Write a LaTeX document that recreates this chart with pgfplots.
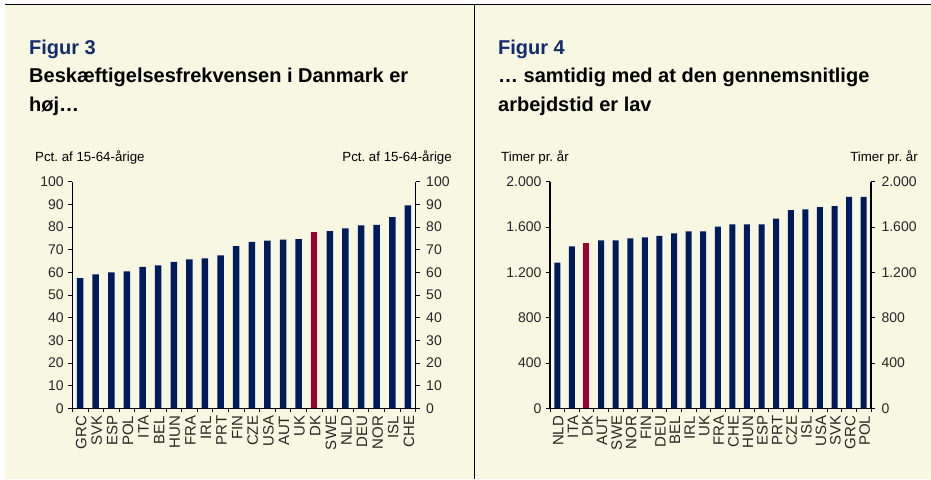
\documentclass[border=0pt]{standalone}
\usepackage{pgfplots}
\pgfplotsset{compat=1.18}
\usepackage{fontspec}
\setmainfont{Liberation Sans}
\frenchspacing
\definecolor{cream}{RGB}{248,247,225}
\definecolor{navy}{RGB}{0,26,94}
\definecolor{titleblue}{RGB}{18,44,110}
\definecolor{dkred}{RGB}{160,0,48}
\newcommand{\sml}{\fontsize{13.3}{15}\selectfont}
\newcommand{\tck}{\fontsize{14}{15}\selectfont}
\newcommand{\cat}{\fontsize{15}{16}\selectfont}
\newcommand{\ttl}{\fontsize{20}{28.5}\selectfont\bfseries}
\pgfplotsset{
  panel/.style={
    scale only axis, anchor=south west, height=226.6pt,
    xmin=-0.5, xmax=21.5,
    /pgf/number format/assume math mode=true,
    tick align=outside, major tick length=4pt,
    axis line style={black, line width=1.2pt},
    tick style={black, line width=0.8pt},
    ticklabel style={font=\tck, text=black!85},
  },
  leftpart/.style={panel,
    axis x line*=bottom, axis y line*=left,
    xtick={-0.5,0.5,...,21.5}, x tick label as interval,
    xticklabel style={rotate=90, anchor=east, font=\cat, yshift=-1pt},
    yticklabel style={xshift=-1pt},
  },
  rightpart/.style={panel,
    axis x line=none, axis y line*=right,
    yticklabel style={xshift=3pt},
  },
}
\begin{document}
\begin{tikzpicture}[x=1pt,y=1pt]
\useasboundingbox (0,0) rectangle (931,479);
\fill[white] (0,0) rectangle (931,479);
\fill[cream] (5,0) rectangle (931,474);
\draw[black, line width=1pt] (5,474) -- (931,474);
\draw[black, line width=1pt] (474.5,0) -- (474.5,474);

% ---------- Figure 3 ----------
\node[anchor=base west, text=titleblue, inner sep=0] at (29,424) {\ttl Figur 3};
\node[anchor=base west, inner sep=0] at (29,396) {\ttl Beskæftigelsesfrekvensen i Danmark er};
\node[anchor=base west, inner sep=0] at (29,367) {\ttl høj…};
\node[anchor=base west, inner sep=0] at (35,317) {\sml Pct. af 15-64-årige};
\node[anchor=base east, inner sep=0] at (452,317) {\sml Pct. af 15-64-årige};

\begin{axis}[leftpart, at={(72.3pt,70.7pt)}, width=343.4pt,
  ymin=0, ymax=100, ytick={0,10,...,100},
  xticklabels={GRC,SVK,ESP,POL,ITA,BEL,HUN,FRA,IRL,PRT,FIN,CZE,USA,AUT,UK,DK,SWE,NLD,DEU,NOR,ISL,CHE},
]
\addplot[ybar, bar width=6.5pt, bar shift=0pt, fill=navy, draw=none] coordinates {
 (0,57.4) (1,59.1) (2,60.0) (3,60.4) (4,62.4) (5,63.1) (6,64.6) (7,65.7) (8,66.2) (9,67.5)
 (10,71.6) (11,73.4) (12,74.0) (13,74.4) (14,74.7) (16,78.2) (17,79.4) (18,80.7) (19,81.0)
 (20,84.4) (21,89.6)};
\addplot[ybar, bar width=6.5pt, bar shift=0pt, fill=dkred, draw=none] coordinates {(15,77.8)};
\end{axis}
\begin{axis}[rightpart, at={(72.3pt,70.7pt)}, width=343.4pt,
  ymin=0, ymax=100, ytick={0,10,...,100}]
\end{axis}

% ---------- Figure 4 ----------
\node[anchor=base west, text=titleblue, inner sep=0] at (498,424) {\ttl Figur 4};
\node[anchor=base west, inner sep=0] at (498,396) {\ttl … samtidig med at den gennemsnitlige};
\node[anchor=base west, inner sep=0] at (498,367) {\ttl arbejdstid er lav};
\node[anchor=base west, inner sep=0] at (501,317) {\sml Timer pr. år};
\node[anchor=base east, inner sep=0] at (918,317) {\sml Timer pr. år};

\begin{axis}[leftpart, at={(550pt,70.7pt)}, width=321pt,
  ymin=0, ymax=2000, ytick={0,400,...,2000},
  /pgf/number format/.cd, 1000 sep={.}, /pgfplots/.cd,
  xticklabels={NLD,ITA,DK,AUT,SWE,NOR,FIN,DEU,BEL,IRL,UK,FRA,CHE,HUN,ESP,PRT,CZE,ISL,USA,SVK,GRC,POL},
]
\addplot[ybar, bar width=6pt, bar shift=0pt, fill=navy, draw=none] coordinates {
 (0,1285) (1,1429) (3,1482) (4,1482) (5,1500) (6,1509) (7,1521) (8,1544) (9,1562) (10,1562)
 (11,1603) (12,1624) (13,1624) (14,1624) (15,1674) (16,1750) (17,1756) (18,1776) (19,1785)
 (20,1865) (21,1865)};
\addplot[ybar, bar width=6pt, bar shift=0pt, fill=dkred, draw=none] coordinates {(2,1459)};
\end{axis}
\begin{axis}[rightpart, at={(550pt,70.7pt)}, width=321pt,
  ymin=0, ymax=2000, ytick={0,400,...,2000},
  /pgf/number format/.cd, 1000 sep={.}, /pgfplots/.cd]
\end{axis}
\end{tikzpicture}
\end{document}
